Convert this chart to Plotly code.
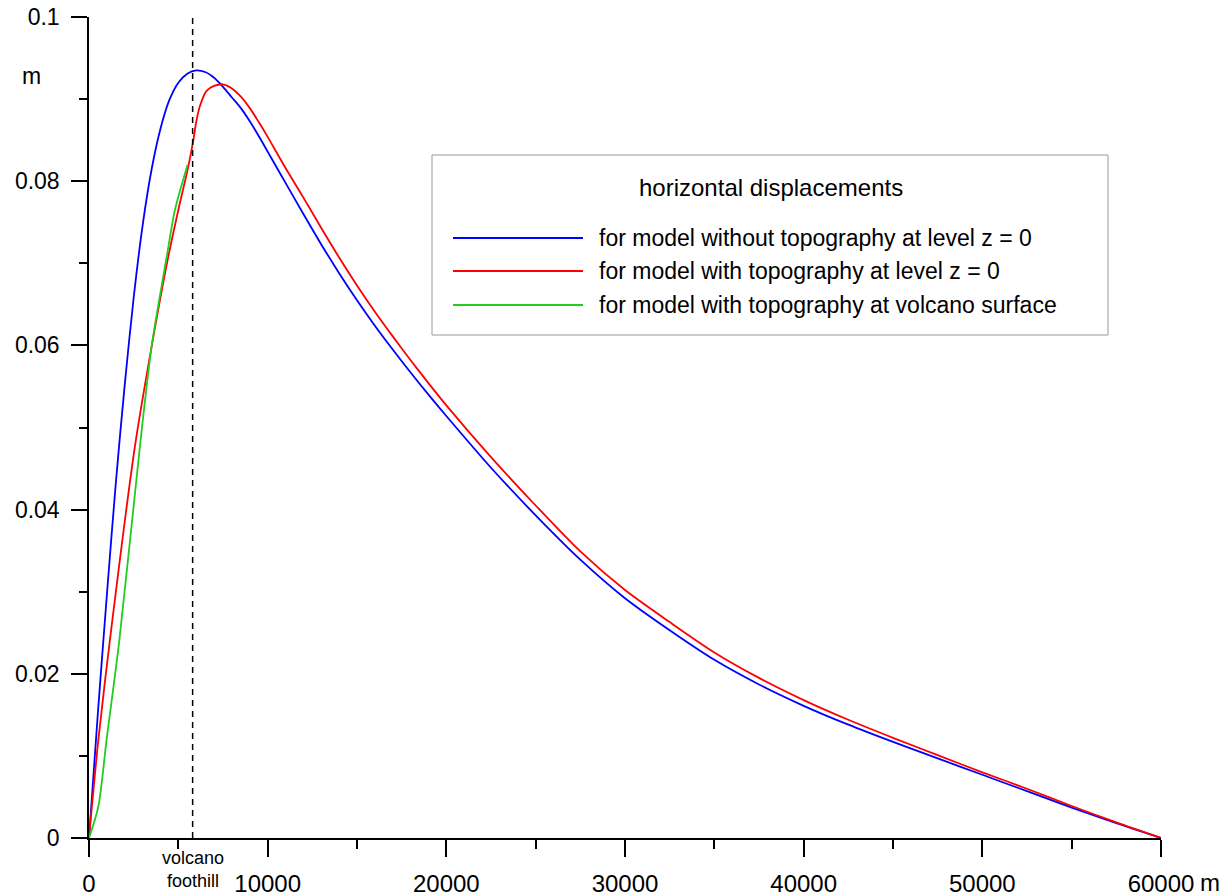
import plotly.graph_objects as go

# ---------------- data ----------------
blue_x = [0, 500, 1000, 1500, 2000, 2500, 3000, 3500, 4000, 4500, 5000, 5500, 6000, 6500, 7000,
          7500, 8000, 8500, 9000, 9500, 10000, 10500, 11000, 12000, 13000, 14000, 15000, 16000,
          17000, 18000, 19000, 20000, 22500, 25000, 27500, 30000, 32500, 35000, 37500, 40000,
          42500, 45000, 47500, 50000, 52500, 55000, 57500, 60000]
blue_y = [0, 0.0153, 0.0296, 0.0432, 0.0552, 0.0658, 0.0746, 0.0814, 0.0864, 0.0899, 0.0920, 0.0931,
          0.0935, 0.0933, 0.0926, 0.0915, 0.0902, 0.0889, 0.0873, 0.0855, 0.0836, 0.0817, 0.0798,
          0.0760, 0.0723, 0.0688, 0.0655, 0.0624, 0.0595, 0.0567, 0.0540, 0.0514, 0.0451, 0.0393,
          0.0339, 0.0292, 0.0253, 0.0217, 0.0187, 0.0161, 0.0138, 0.0117, 0.0097, 0.0077, 0.0057,
          0.0037, 0.0018, 0]

red_x = [0, 520, 1170, 2570, 3500, 4400, 5000, 5560, 5840, 6000, 6200, 6580, 7000, 7500, 8000,
         8500, 9000, 9500, 10000, 10500, 11000, 12000, 13000, 14000, 15000, 16000, 17000, 18000,
         19000, 20000, 22500, 25000, 27500, 30000, 32500, 35000, 37500, 40000, 42500, 45000,
         47500, 50000, 52500, 55000, 57500, 60000]
red_y = [0, 0.0119, 0.0241, 0.0477, 0.0598, 0.0704, 0.0765, 0.0818, 0.0850, 0.0872, 0.0891, 0.0910,
         0.0916, 0.0918, 0.0913, 0.0903, 0.0889, 0.0872, 0.0854, 0.0835, 0.0816, 0.0780, 0.0743,
         0.0707, 0.0673, 0.0641, 0.0611, 0.0582, 0.0554, 0.0527, 0.0464, 0.0405, 0.0349, 0.0302,
         0.0263, 0.0226, 0.0195, 0.0168, 0.0144, 0.0122, 0.0101, 0.0080, 0.0060, 0.0039, 0.0019, 0]

green_x = [0, 520, 980, 1700, 2850, 3500, 4350, 4810, 5520]
green_y = [0, 0.0038, 0.0119, 0.0241, 0.0477, 0.0598, 0.0708, 0.0765, 0.0820]

series_names = ["for model without topography at level z = 0",
                "for model with topography at level z = 0",
                "for model with topography at volcano surface"]
series_colors = ["#0000ff", "#ff0000", "#22cc22"]

foothill_x = 5800
y_tickvals = [0, 0.02, 0.04, 0.06, 0.08, 0.1]
y_ticktext = ["0", "0.02", "0.04", "0.06", "0.08", "0.1"]
x_tickvals = [0, 10000, 20000, 30000, 40000, 50000, 60000]
x_ticktext = ["0", "10000", "20000", "30000", "40000", "50000", "60000"]
legend_title = "horizontal displacements"

# ---------------- layout geometry ----------------
W, H = 1226, 896
L, R, T, B = 89, 65, 17, 58
PW, PH = W - L - R, H - T - B


def px(xp):
    return (xp - L) / PW


def py(yp):
    return (H - B - yp) / PH


FONT = "Liberation Sans, Arial, sans-serif"

fig = go.Figure()
for xs, ys, nm, col in zip([blue_x, red_x, green_x], [blue_y, red_y, green_y],
                           series_names, series_colors):
    fig.add_trace(go.Scatter(x=xs, y=ys, mode="lines", name=nm,
                             line=dict(color=col, width=1.8, shape="spline", smoothing=0.8),
                             showlegend=False))

# dashed foothill line
fig.add_shape(type="line", xref="x", yref="y", x0=foothill_x, x1=foothill_x, y0=0, y1=0.1,
              line=dict(color="black", width=1.5, dash="6px,5px"))

shapes = []
annotations = []

# legend box
shapes.append(dict(type="rect", xref="paper", yref="paper",
                   x0=px(432), x1=px(1108), y0=py(335), y1=py(155),
                   line=dict(color="#999999", width=1), fillcolor="white", layer="above"))
annotations.append(dict(xref="paper", yref="paper", x=px(771), y=py(188), text=legend_title,
                        showarrow=False, xanchor="center", yanchor="middle",
                        font=dict(family=FONT, size=24, color="black")))
for i, (nm, col) in enumerate(zip(series_names, series_colors)):
    yy = [238, 271, 305][i]
    shapes.append(dict(type="line", xref="paper", yref="paper", x0=px(453), x1=px(583),
                       y0=py(yy), y1=py(yy), line=dict(color=col, width=1.8), layer="above"))
    annotations.append(dict(xref="paper", yref="paper", x=px(597), y=py(yy), text=nm,
                            showarrow=False, xanchor="left", yanchor="middle",
                            font=dict(family=FONT, size=23, color="black")))

# units and foothill label
annotations.append(dict(xref="paper", yref="paper", x=px(31), y=py(76), text="m",
                        showarrow=False, xanchor="center", yanchor="middle",
                        font=dict(family=FONT, size=23, color="black")))
annotations.append(dict(xref="paper", yref="paper", x=px(1210), y=py(882), text="m",
                        showarrow=False, xanchor="center", yanchor="middle",
                        font=dict(family=FONT, size=24, color="black")))
annotations.append(dict(xref="x", yref="paper", x=foothill_x, y=py(869),
                        text="volcano<br>foothill", showarrow=False,
                        xanchor="center", yanchor="middle",
                        font=dict(family=FONT, size=18, color="black")))

fig.update_layout(
    width=W, height=H, autosize=False,
    margin=dict(l=L, r=R, t=T, b=B, pad=0),
    paper_bgcolor="white", plot_bgcolor="white",
    font=dict(family=FONT, size=23, color="black"),
    shapes=fig.layout.shapes + tuple(shapes),
    annotations=annotations,
    showlegend=False,
)
fig.update_xaxes(range=[0, 60000], showgrid=False, zeroline=False, showline=True,
                 linecolor="black", linewidth=1.5, ticks="outside", ticklen=17, tickwidth=1.5,
                 tickcolor="black", tickvals=x_tickvals, ticktext=x_ticktext,
                 tickfont=dict(size=24), ticklabelstandoff=6, automargin=False,
                 minor=dict(dtick=5000, tick0=0, ticks="outside", ticklen=9, tickwidth=1.5,
                            tickcolor="black", showgrid=False))
fig.update_yaxes(range=[0, 0.1], showgrid=False, zeroline=False, showline=True,
                 linecolor="black", linewidth=1.5, ticks="outside", ticklen=16, tickwidth=1.5,
                 tickcolor="black", tickvals=y_tickvals, ticktext=y_ticktext,
                 ticklabelstandoff=7, automargin=False,
                 minor=dict(dtick=0.01, tick0=0, ticks="outside", ticklen=8, tickwidth=1.5,
                            tickcolor="black", showgrid=False))

fig.write_html("out.html")
